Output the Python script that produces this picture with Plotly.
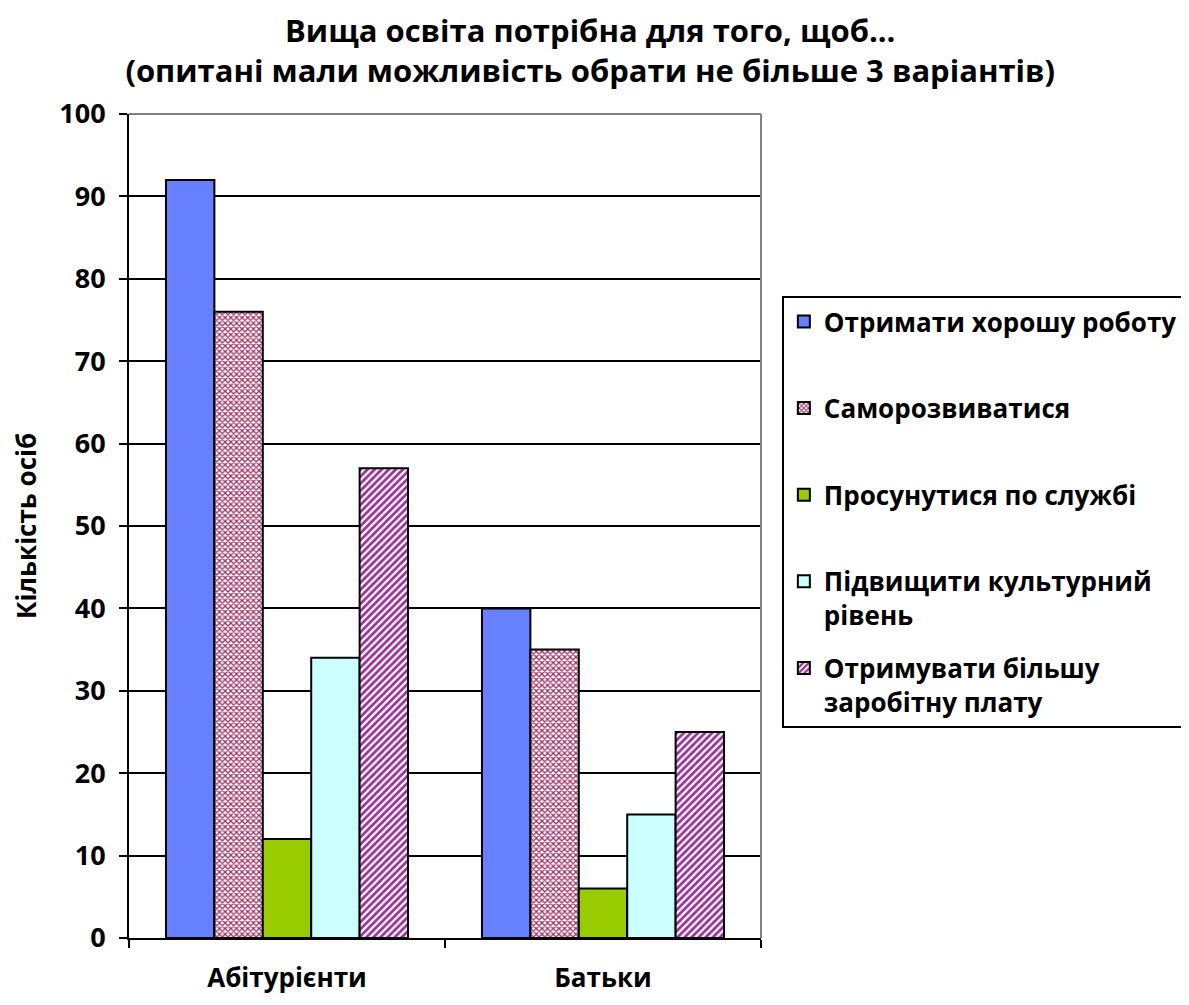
import plotly.graph_objects as go

categories = ["Абітурієнти", "Батьки"]
series_names = [
    "Отримати хорошу роботу",
    "Саморозвиватися",
    "Просунутися по службі",
    "Підвищити культурний<br>рівень",
    "Отримувати більшу<br>заробітну плату",
]
series_values = [
    [92, 40],
    [76, 35],
    [12, 6],
    [34, 15],
    [57, 25],
]
y_ticks = [0, 10, 20, 30, 40, 50, 60, 70, 80, 90, 100]

styles = [
    dict(color="#6680FF"),
    dict(color="white", pattern=dict(shape="x", fgcolor="#993366", bgcolor="white", size=4, solidity=0.55, fgopacity=1)),
    dict(color="#99CC00"),
    dict(color="#CCFFFF"),
    dict(color="white", pattern=dict(shape="/", fgcolor="#993399", bgcolor="white", size=5, solidity=0.55, fgopacity=1)),
]

FONT = "Open Sans"

fig = go.Figure()
for name, vals, st in zip(series_names, series_values, styles):
    label = name if "<br>" in name else name + "<br> "
    marker = dict(line=dict(color="black", width=2))
    marker["color"] = st["color"]
    if "pattern" in st:
        marker["pattern"] = st["pattern"]
    fig.add_trace(go.Bar(x=categories, y=vals, name=label, marker=marker,
                         legendgroup=name))

fig.update_layout(
    width=1181, height=989,
    margin=dict(l=121, r=428, t=106, b=59, autoexpand=False),
    paper_bgcolor="white", plot_bgcolor="white",
    barmode="group", bargap=0.234, bargroupgap=0,
    font=dict(family=FONT, color="black"),
    title=dict(
        text="<b>Вища освіта потрібна для того, щоб...<br>(опитані мали можливість обрати не більше 3 варіантів)</b>",
        x=0.493, xanchor="center", yref="container", y=0.966, yanchor="top",
        font=dict(family=FONT, size=31, color="black"),
    ),
    legend=dict(
        x=1.033, xanchor="left", y=0.779, yanchor="top",
        bordercolor="black", borderwidth=2, bgcolor="white",
        font=dict(family=FONT, size=26, color="black", weight="bold"),
        valign="top", tracegroupgap=16, traceorder="grouped",
    ),
    showlegend=True,
)

fig.update_yaxes(
    range=[0, 100], tickvals=y_ticks, automargin=False,
    showgrid=True, gridcolor="black", gridwidth=2,
    showline=True, linecolor="black", linewidth=2,
    ticks="outside", ticklen=8, tickwidth=2, tickcolor="black",
    tickfont=dict(family=FONT, size=27, color="black", weight="bold"),
    ticklabelstandoff=8,
    title=dict(text="<b>Кількість осіб</b>", font=dict(family=FONT, size=26, color="black"), standoff=22),
    zeroline=False,
)
fig.update_xaxes(
    automargin=False,
    showline=True, linecolor="black", linewidth=2,
    ticks="outside", ticklen=8, tickwidth=2, tickcolor="black",
    tickson="boundaries", showgrid=False,
    tickfont=dict(family=FONT, size=26, color="black", weight="bold"),
    ticklabelstandoff=16,
)

fig.add_shape(type="line", xref="paper", yref="paper", x0=0, x1=1, y0=1, y1=1,
              line=dict(color="#808080", width=2), layer="above")
fig.add_shape(type="line", xref="paper", yref="paper", x0=1, x1=1, y0=0, y1=1,
              line=dict(color="#808080", width=2), layer="above")

fig.write_html("out.html")
